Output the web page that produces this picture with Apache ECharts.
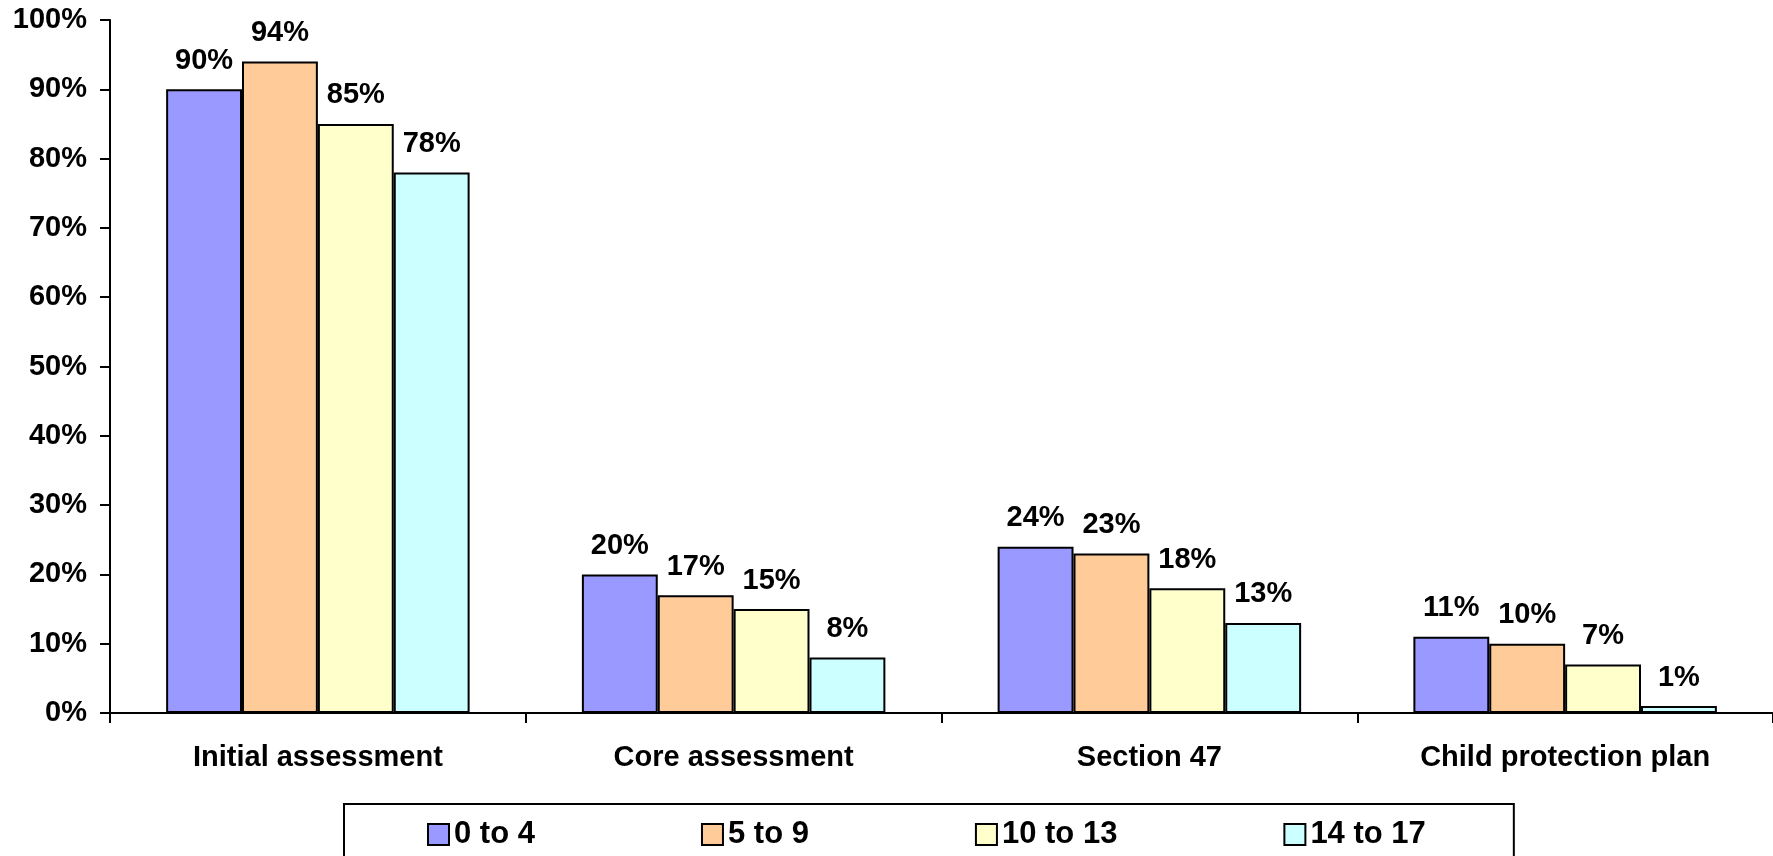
<!DOCTYPE html>
<html>
<head>
<meta charset="utf-8">
<script src="https://cdn.jsdelivr.net/npm/echarts@6/dist/echarts.min.js"></script>
<style>
  html, body { margin: 0; padding: 0; background: #fff; }
  #chart { width: 1773px; height: 856px; }
</style>
</head>
<body>
<div id="chart"></div>
<script>
// Stages of the assessment process
const categories = ['Initial assessment', 'Core assessment', 'Section 47', 'Child protection plan'];

// Share of children reaching each stage, by age band (percent)
const ageBands = ['0 to 4', '5 to 9', '10 to 13', '14 to 17'];
const age0to4   = [90, 20, 24, 11];
const age5to9   = [94, 17, 23, 10];
const age10to13 = [85, 15, 18, 7];
const age14to17 = [78, 8, 13, 1];

const yTicks = { min: 0, max: 100, interval: 10 };

const bandColors = ['#9999FF', '#FFCC99', '#FFFFCC', '#CCFFFF'];
const fontFamily = '"Liberation Sans", Arial, Helvetica, sans-serif';

const seriesValues = [age0to4, age5to9, age10to13, age14to17];

const chart = echarts.init(document.getElementById('chart'), null, { renderer: 'canvas' });

chart.setOption({
  backgroundColor: '#ffffff',
  animation: false,
  grid: { left: 110, right: 0, top: 20, bottom: 143, containLabel: false },
  legend: {
    data: ageBands,
    left: 344,
    top: 804,
    padding: [15, 88, 40, 83],
    borderColor: '#000',
    borderWidth: 2,
    itemGap: 166,
    itemWidth: 21,
    itemHeight: 21,
    icon: 'rect',
    textStyle: { fontFamily, fontWeight: 'bold', fontSize: 31, color: '#000' }
  },
  xAxis: {
    type: 'category',
    data: categories,
    boundaryGap: true,
    axisLine: { lineStyle: { color: '#000', width: 2 } },
    axisTick: { show: true, length: 10, alignWithLabel: false, lineStyle: { color: '#000', width: 2 } },
    axisLabel: { margin: 30, color: '#000', fontFamily, fontWeight: 'bold', fontSize: 29, interval: 0 },
    splitLine: { show: false }
  },
  yAxis: {
    type: 'value',
    min: yTicks.min,
    max: yTicks.max,
    interval: yTicks.interval,
    axisLine: { show: true, lineStyle: { color: '#000', width: 2 } },
    axisTick: { show: true, length: 10, lineStyle: { color: '#000', width: 2 } },
    axisLabel: { margin: 23, color: '#000', fontFamily, fontWeight: 'bold', fontSize: 29, formatter: '{value}%' },
    splitLine: { show: false }
  },
  series: ageBands.map((name, i) => ({
    name,
    type: 'bar',
    data: seriesValues[i],
    barGap: '0%',
    barCategoryGap: '27%',
    itemStyle: { color: bandColors[i], borderColor: '#000', borderWidth: 2 },
    label: {
      show: true,
      position: 'top',
      distance: 14,
      formatter: '{c}%',
      color: '#000',
      fontFamily,
      fontWeight: 'bold',
      fontSize: 29
    }
  }))
});
</script>
</body>
</html>
